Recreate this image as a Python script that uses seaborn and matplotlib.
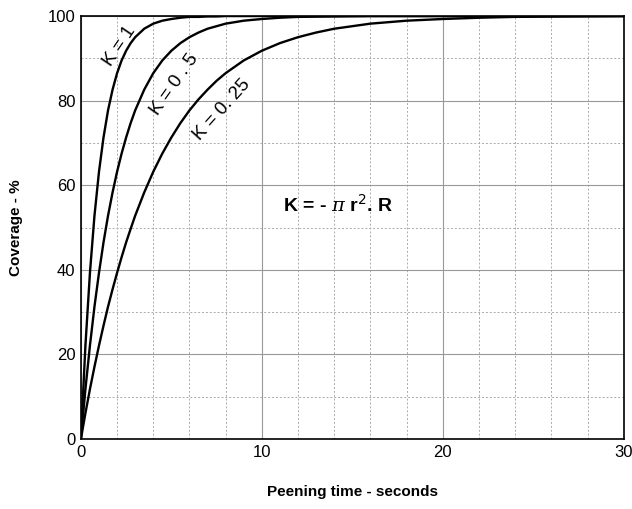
import numpy as np
import pandas as pd
import seaborn as sns
import matplotlib.pyplot as plt
from matplotlib.ticker import MultipleLocator

# values
time_s = [0, 0.25, 0.5, 0.75, 1, 1.25, 1.5, 1.75, 2, 2.25, 2.5, 2.75, 3, 3.5, 4, 4.5, 5, 5.5,
          6, 6.5, 7, 7.5, 8, 9, 10, 11, 12, 13, 14, 16, 18, 20, 22, 24, 27, 30]
cov_k1 = [0, 22.1, 39.3, 52.8, 63.2, 71.3, 77.7, 82.6, 86.5, 89.5, 91.8, 93.6, 95.0, 97.0,
          98.2, 98.9, 99.3, 99.6, 99.8, 99.8, 99.9, 99.9, 100, 100, 100, 100, 100, 100, 100,
          100, 100, 100, 100, 100, 100, 100]
cov_k05 = [0, 11.8, 22.1, 31.3, 39.3, 46.5, 52.8, 58.3, 63.2, 67.5, 71.3, 74.7, 77.7, 82.6,
           86.5, 89.5, 91.8, 93.6, 95.0, 96.1, 97.0, 97.6, 98.2, 98.9, 99.3, 99.6, 99.8,
           99.85, 99.9, 100, 100, 100, 100, 100, 100, 100]
cov_k025 = [0, 6.1, 11.8, 17.1, 22.1, 26.8, 31.3, 35.4, 39.3, 43.0, 46.5, 49.7, 52.8, 58.3,
            63.2, 67.5, 71.3, 74.7, 77.7, 80.3, 82.6, 84.7, 86.5, 89.5, 91.8, 93.6, 95.0,
            96.1, 97.0, 98.2, 98.9, 99.3, 99.6, 99.8, 99.9, 100]

df = pd.DataFrame({"t": time_s * 3,
                   "cov": cov_k1 + cov_k05 + cov_k025,
                   "K": ["1"] * len(time_s) + ["0.5"] * len(time_s) + ["0.25"] * len(time_s)})

sns.set_style("white")
plt.rcParams["font.family"] = ["Liberation Sans", "DejaVu Sans"]
plt.rcParams["mathtext.fontset"] = "dejavuserif"
plt.rcParams["text.color"] = "black"

fig = plt.figure(figsize=(6.32, 5.09), dpi=100)
ax = fig.add_axes([0.128, 0.1375, 0.859, 0.831])

sns.lineplot(data=df, x="t", y="cov", hue="K", palette=["black"] * 3,
             linewidth=1.7, legend=False, ax=ax, zorder=3)

ax.set_xlim(0, 30)
ax.set_ylim(0, 100)
ax.xaxis.set_major_locator(MultipleLocator(10))
ax.xaxis.set_minor_locator(MultipleLocator(2))
ax.yaxis.set_major_locator(MultipleLocator(20))
ax.yaxis.set_minor_locator(MultipleLocator(10))
ax.grid(which="major", color="#999999", linestyle="-", linewidth=0.8)
ax.grid(which="minor", color="#aaaaaa", linestyle=(0, (2, 2)), linewidth=0.7)
ax.tick_params(which="both", length=0, labelsize=12, colors="black", pad=4)
for s in ax.spines.values():
    s.set_color("black")
    s.set_linewidth(1.2)

ax.set_xlabel("Peening time - seconds", fontsize=11, fontweight="bold", labelpad=18, color="black")
ax.set_ylabel("Coverage - %", fontsize=11, fontweight="bold", labelpad=18, color="black")

ax.text(2.15, 93, "K = 1", rotation=56, fontsize=13.5, ha="center", va="center")
ax.text(5.2, 83.7, "K = 0 . 5", rotation=55, fontsize=13.5, ha="center", va="center")
ax.text(7.8, 77.8, "K = 0. 25", rotation=48, fontsize=13.5, ha="center", va="center")
ax.text(11.15, 55.3, r"K = - $\pi$ r$^{\mathsf{2}}$. R", fontsize=14, fontweight="bold",
        ha="left", va="center")

plt.savefig("out.png", dpi=100)
